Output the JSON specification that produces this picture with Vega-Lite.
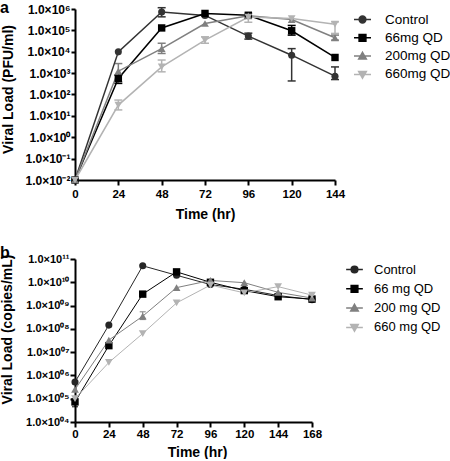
{
  "$schema": "https://vega.github.io/schema/vega-lite/v6.json",
  "padding": {"left": 0, "top": 0, "right": 0, "bottom": 0},
  "spacing": 24,
  "config": {
    "font": "Liberation Sans",
    "view": {"stroke": null},
    "axis": {
      "grid": false, "domainColor": "#000", "domainWidth": 2, "tickColor": "#000", "tickWidth": 2, "tickSize": 5,
      "labelColor": "#000", "labelFont": "Liberation Sans", "labelFontWeight": "bold", "labelOverlap": false, "labelBound": false, "labelFlush": false,
      "titleFont": "Liberation Sans", "titleFontWeight": "bold", "titleFontSize": 14, "titleColor": "#000"
    },
    "legend": {"labelFont": "Liberation Sans", "labelColor": "#000", "symbolStrokeWidth": 1.5, "symbolOpacity": 1}
  },
  "resolve": {
    "scale": {"fill": "independent", "stroke": "independent", "shape": "independent"},
    "legend": {"fill": "independent", "stroke": "independent", "shape": "independent"}
  },
  "vconcat": [
    {
      "width": 260, "height": 171,
      "title": {"text": "a", "anchor": "start", "frame": "group", "dx": -75, "offset": -13, "fontSize": 16, "fontWeight": "bold", "color": "#000"},
      "data": {"values": [
        {"s": "Control", "t": 0, "v": 0.01},
        {"s": "Control", "t": 24, "v": 9900},
        {"s": "Control", "t": 48, "v": 730000, "lo": 430000, "hi": 1150000},
        {"s": "Control", "t": 72, "v": 500000},
        {"s": "Control", "t": 96, "v": 54000, "lo": 39000, "hi": 74000},
        {"s": "Control", "t": 120, "v": 6900, "lo": 430, "hi": 14000},
        {"s": "Control", "t": 144, "v": 720, "lo": 500, "hi": 1950},
        {"s": "66mg QD", "t": 0, "v": 0.01},
        {"s": "66mg QD", "t": 24, "v": 560, "lo": 330, "hi": 810},
        {"s": "66mg QD", "t": 48, "v": 130000},
        {"s": "66mg QD", "t": 72, "v": 620000},
        {"s": "66mg QD", "t": 96, "v": 510000},
        {"s": "66mg QD", "t": 120, "v": 96000, "lo": 60000, "hi": 170000},
        {"s": "66mg QD", "t": 144, "v": 5400},
        {"s": "200mg QD", "t": 0, "v": 0.01},
        {"s": "200mg QD", "t": 24, "v": 1230, "lo": 390, "hi": 2800},
        {"s": "200mg QD", "t": 48, "v": 14000, "lo": 8300, "hi": 25000},
        {"s": "200mg QD", "t": 72, "v": 210000},
        {"s": "200mg QD", "t": 96, "v": 480000},
        {"s": "200mg QD", "t": 120, "v": 320000},
        {"s": "200mg QD", "t": 144, "v": 45000, "lo": 35000, "hi": 60000},
        {"s": "660mg QD", "t": 0, "v": 0.01},
        {"s": "660mg QD", "t": 24, "v": 32, "lo": 19, "hi": 55},
        {"s": "660mg QD", "t": 48, "v": 1950, "lo": 1150, "hi": 4100},
        {"s": "660mg QD", "t": 72, "v": 35000, "lo": 25000, "hi": 50000},
        {"s": "660mg QD", "t": 96, "v": 420000, "lo": 240000, "hi": 630000},
        {"s": "660mg QD", "t": 120, "v": 360000},
        {"s": "660mg QD", "t": 144, "v": 195000, "lo": 72000, "hi": 250000}
      ]},
      "encoding": {
        "x": {"field": "t", "type": "quantitative", "title": "Time (hr)",
          "scale": {"domain": [0, 144], "nice": false, "zero": false},
          "axis": {"values": [0, 24, 48, 72, 96, 120, 144], "labelAngle": 0, "labelFontSize": 11.5, "labelPadding": 3, "titleX": 130, "titleY": 34, "titleBaseline": "middle", "titleAlign": "center"}},
        "y": {"field": "v", "type": "quantitative", "title": "Viral Load (PFU/ml)",
          "scale": {"type": "log", "domain": [0.01, 1000000], "nice": false},
          "axis": {"values": [0.01, 0.1, 1, 10, 100, 1000, 10000, 100000, 1000000], "labelFontSize": 12, "labelPadding": 1, "tickSize": 4,
            "labelExpr": "'1.0×10' + (datum.value < 1 ? '⁻' : '') + ['⁰','¹','²','³','⁴','⁵','⁶','⁷','⁸','⁹'][abs(round(log(datum.value)/LN10))]",
            "titleX": -67, "titleY": 80, "titleAngle": 270, "titleBaseline": "middle", "titleAlign": "center"}},
        "stroke": {"field": "s", "type": "nominal",
          "scale": {"domain": ["Control", "66mg QD", "200mg QD", "660mg QD"], "range": ["#333333", "#000000", "#808080", "#b3b3b3"]},
          "legend": {"title": null, "orient": "none", "legendX": 278, "legendY": 1, "labelFontSize": 13.5, "symbolSize": 289, "rowPadding": 2.3, "labelOffset": 13}}
      },
      "layer": [
        {
          "mark": {"type": "point", "filled": true, "opacity": 0, "strokeWidth": 1.5},
          "encoding": {
            "fill": {"field": "s", "type": "nominal",
              "scale": {"domain": ["Control", "66mg QD", "200mg QD", "660mg QD"], "range": ["#333333", "#000000", "#808080", "#b3b3b3"]},
              "legend": {"title": null, "orient": "none", "legendX": 278, "legendY": 1, "labelFontSize": 13.5, "symbolSize": 289, "rowPadding": 2.3, "labelOffset": 13}},
            "shape": {"field": "s", "type": "nominal",
              "scale": {"domain": ["Control", "66mg QD", "200mg QD", "660mg QD"], "range": ["M-1,0H1M0.4,0A0.4,0.4,0,1,1,-0.4,0A0.4,0.4,0,1,1,0.4,0Z", "M-1,0H1M-0.4,-0.4H0.4V0.4H-0.4Z", "M-1,0H1M0,-0.45L0.45,0.35H-0.45Z", "M-1,0H1M0,0.45L0.45,-0.35H-0.45Z"]},
              "legend": {"title": null, "orient": "none", "legendX": 278, "legendY": 1, "labelFontSize": 13.5, "symbolSize": 289, "rowPadding": 2.3, "labelOffset": 13}}
          }
        },
        {
          "transform": [{"filter": "isValid(datum.lo)"}],
          "mark": {"type": "rule", "strokeWidth": 1.5},
          "encoding": {
            "y": {"field": "lo", "type": "quantitative", "title": "Viral Load (PFU/ml)",
              "scale": {"type": "log", "domain": [0.01, 1000000], "nice": false},
              "axis": {"values": [0.01, 0.1, 1, 10, 100, 1000, 10000, 100000, 1000000], "labelFontSize": 12, "labelPadding": 1, "tickSize": 4,
                "labelExpr": "'1.0×10' + (datum.value < 1 ? '⁻' : '') + ['⁰','¹','²','³','⁴','⁵','⁶','⁷','⁸','⁹'][abs(round(log(datum.value)/LN10))]",
                "titleX": -67, "titleY": 80, "titleAngle": 270, "titleBaseline": "middle", "titleAlign": "center"}},
            "y2": {"field": "hi"}
          }
        },
        {
          "transform": [{"filter": "isValid(datum.lo)"}],
          "mark": {"type": "tick", "orient": "horizontal", "size": 8, "thickness": 1.5, "opacity": 1, "strokeWidth": 0},
          "encoding": {
            "y": {"field": "lo", "type": "quantitative", "title": "Viral Load (PFU/ml)",
              "scale": {"type": "log", "domain": [0.01, 1000000], "nice": false},
              "axis": {"values": [0.01, 0.1, 1, 10, 100, 1000, 10000, 100000, 1000000], "labelFontSize": 12, "labelPadding": 1, "tickSize": 4,
                "labelExpr": "'1.0×10' + (datum.value < 1 ? '⁻' : '') + ['⁰','¹','²','³','⁴','⁵','⁶','⁷','⁸','⁹'][abs(round(log(datum.value)/LN10))]",
                "titleX": -67, "titleY": 80, "titleAngle": 270, "titleBaseline": "middle", "titleAlign": "center"}},
            "fill": {"field": "s", "type": "nominal",
              "scale": {"domain": ["Control", "66mg QD", "200mg QD", "660mg QD"], "range": ["#333333", "#000000", "#808080", "#b3b3b3"]},
              "legend": {"title": null, "orient": "none", "legendX": 278, "legendY": 1, "labelFontSize": 13.5, "symbolSize": 289, "rowPadding": 2.3, "labelOffset": 13}}
          }
        },
        {
          "transform": [{"filter": "isValid(datum.hi)"}],
          "mark": {"type": "tick", "orient": "horizontal", "size": 8, "thickness": 1.5, "opacity": 1, "strokeWidth": 0},
          "encoding": {
            "y": {"field": "hi", "type": "quantitative", "title": "Viral Load (PFU/ml)",
              "scale": {"type": "log", "domain": [0.01, 1000000], "nice": false},
              "axis": {"values": [0.01, 0.1, 1, 10, 100, 1000, 10000, 100000, 1000000], "labelFontSize": 12, "labelPadding": 1, "tickSize": 4,
                "labelExpr": "'1.0×10' + (datum.value < 1 ? '⁻' : '') + ['⁰','¹','²','³','⁴','⁵','⁶','⁷','⁸','⁹'][abs(round(log(datum.value)/LN10))]",
                "titleX": -67, "titleY": 80, "titleAngle": 270, "titleBaseline": "middle", "titleAlign": "center"}},
            "fill": {"field": "s", "type": "nominal",
              "scale": {"domain": ["Control", "66mg QD", "200mg QD", "660mg QD"], "range": ["#333333", "#000000", "#808080", "#b3b3b3"]},
              "legend": {"title": null, "orient": "none", "legendX": 278, "legendY": 1, "labelFontSize": 13.5, "symbolSize": 289, "rowPadding": 2.3, "labelOffset": 13}}
          }
        },
        {"mark": {"type": "line", "strokeWidth": 1.5}},
        {"transform": [{"filter": "datum.s == 'Control'"}], "mark": {"type": "point", "shape": "circle", "filled": true, "opacity": 1, "strokeWidth": 0, "size": 50},
          "encoding": {"fill": {"field": "s", "type": "nominal", "scale": {"domain": ["Control", "66mg QD", "200mg QD", "660mg QD"], "range": ["#333333", "#000000", "#808080", "#b3b3b3"]},
            "legend": {"title": null, "orient": "none", "legendX": 278, "legendY": 1, "labelFontSize": 13.5, "symbolSize": 289, "rowPadding": 2.3, "labelOffset": 13}}}},
        {"transform": [{"filter": "datum.s == '66mg QD'"}], "mark": {"type": "point", "shape": "square", "filled": true, "opacity": 1, "strokeWidth": 0, "size": 55},
          "encoding": {"fill": {"field": "s", "type": "nominal", "scale": {"domain": ["Control", "66mg QD", "200mg QD", "660mg QD"], "range": ["#333333", "#000000", "#808080", "#b3b3b3"]},
            "legend": {"title": null, "orient": "none", "legendX": 278, "legendY": 1, "labelFontSize": 13.5, "symbolSize": 289, "rowPadding": 2.3, "labelOffset": 13}}}},
        {"transform": [{"filter": "datum.s == '200mg QD'"}], "mark": {"type": "point", "shape": "triangle-up", "filled": true, "opacity": 1, "strokeWidth": 0, "size": 60},
          "encoding": {"fill": {"field": "s", "type": "nominal", "scale": {"domain": ["Control", "66mg QD", "200mg QD", "660mg QD"], "range": ["#333333", "#000000", "#808080", "#b3b3b3"]},
            "legend": {"title": null, "orient": "none", "legendX": 278, "legendY": 1, "labelFontSize": 13.5, "symbolSize": 289, "rowPadding": 2.3, "labelOffset": 13}}}},
        {"transform": [{"filter": "datum.s == '660mg QD'"}], "mark": {"type": "point", "shape": "triangle-down", "filled": true, "opacity": 1, "strokeWidth": 0, "size": 60},
          "encoding": {"fill": {"field": "s", "type": "nominal", "scale": {"domain": ["Control", "66mg QD", "200mg QD", "660mg QD"], "range": ["#333333", "#000000", "#808080", "#b3b3b3"]},
            "legend": {"title": null, "orient": "none", "legendX": 278, "legendY": 1, "labelFontSize": 13.5, "symbolSize": 289, "rowPadding": 2.3, "labelOffset": 13}}}}
      ]
    },
    {
      "width": 237, "height": 163,
      "title": {"text": "b", "anchor": "start", "frame": "group", "dx": -75, "offset": -8, "fontSize": 16, "fontWeight": "bold", "color": "#000"},
      "data": {"values": [
        {"s": "Control", "t": 0, "v": 520000},
        {"s": "Control", "t": 24, "v": 145000000},
        {"s": "Control", "t": 48, "v": 51000000000},
        {"s": "Control", "t": 72, "v": 20000000000},
        {"s": "Control", "t": 96, "v": 8000000000},
        {"s": "Control", "t": 120, "v": 5000000000},
        {"s": "Control", "t": 144, "v": 2700000000},
        {"s": "Control", "t": 168, "v": 1800000000},
        {"s": "66 mg QD", "t": 0, "v": 73000, "lo": 45000, "hi": 90000},
        {"s": "66 mg QD", "t": 24, "v": 19000000},
        {"s": "66 mg QD", "t": 48, "v": 3100000000},
        {"s": "66 mg QD", "t": 72, "v": 28000000000},
        {"s": "66 mg QD", "t": 96, "v": 10000000000},
        {"s": "66 mg QD", "t": 120, "v": 4400000000},
        {"s": "66 mg QD", "t": 144, "v": 2400000000},
        {"s": "66 mg QD", "t": 168, "v": 1900000000},
        {"s": "200 mg QD", "t": 0, "v": 250000},
        {"s": "200 mg QD", "t": 24, "v": 33000000},
        {"s": "200 mg QD", "t": 48, "v": 350000000, "lo": 250000000, "hi": 540000000},
        {"s": "200 mg QD", "t": 72, "v": 5900000000},
        {"s": "200 mg QD", "t": 96, "v": 12000000000},
        {"s": "200 mg QD", "t": 120, "v": 9600000000},
        {"s": "200 mg QD", "t": 144, "v": 3700000000},
        {"s": "200 mg QD", "t": 168, "v": 2100000000},
        {"s": "660 mg QD", "t": 0, "v": 100000},
        {"s": "660 mg QD", "t": 24, "v": 3600000},
        {"s": "660 mg QD", "t": 48, "v": 63000000},
        {"s": "660 mg QD", "t": 72, "v": 1300000000},
        {"s": "660 mg QD", "t": 96, "v": 7600000000},
        {"s": "660 mg QD", "t": 120, "v": 3500000000},
        {"s": "660 mg QD", "t": 144, "v": 6500000000},
        {"s": "660 mg QD", "t": 168, "v": 2800000000, "lo": 1800000000, "hi": 3500000000}
      ]},
      "encoding": {
        "x": {"field": "t", "type": "quantitative", "title": "Time (hr)",
          "scale": {"domain": [0, 168], "nice": false, "zero": false},
          "axis": {"values": [0, 24, 48, 72, 96, 120, 144, 168], "labelAngle": 0, "labelFontSize": 11.5, "labelPadding": 1, "titleX": 122, "titleY": 30, "titleBaseline": "middle", "titleAlign": "center"}},
        "y": {"field": "v", "type": "quantitative", "title": "Viral Load (copies/mL)",
          "scale": {"type": "log", "domain": [10000, 100000000000], "nice": false},
          "axis": {"values": [10000, 100000, 1000000, 10000000, 100000000, 1000000000, 10000000000, 100000000000], "labelFontSize": 11, "labelPadding": 1, "tickSize": 5,
            "labelExpr": "'1.0×10' + ['⁰','¹','²','³','⁴','⁵','⁶','⁷','⁸','⁹'][floor(round(log(datum.value)/LN10)/10)] + ['⁰','¹','²','³','⁴','⁵','⁶','⁷','⁸','⁹'][round(log(datum.value)/LN10) % 10]",
            "titleX": -68, "titleY": 70, "titleAngle": 270, "titleBaseline": "middle", "titleAlign": "center"}},
        "stroke": {"field": "s", "type": "nominal",
          "scale": {"domain": ["Control", "66 mg QD", "200 mg QD", "660 mg QD"], "range": ["#262626", "#000000", "#808080", "#b3b3b3"]},
          "legend": {"title": null, "orient": "none", "legendX": 270, "legendY": 1, "labelFontSize": 13, "symbolSize": 279, "rowPadding": 2.3, "labelOffset": 10}}
      },
      "layer": [
        {
          "mark": {"type": "point", "filled": true, "opacity": 0, "strokeWidth": 1.5},
          "encoding": {
            "fill": {"field": "s", "type": "nominal",
              "scale": {"domain": ["Control", "66 mg QD", "200 mg QD", "660 mg QD"], "range": ["#262626", "#000000", "#808080", "#b3b3b3"]},
              "legend": {"title": null, "orient": "none", "legendX": 270, "legendY": 1, "labelFontSize": 13, "symbolSize": 279, "rowPadding": 2.3, "labelOffset": 10}},
            "shape": {"field": "s", "type": "nominal",
              "scale": {"domain": ["Control", "66 mg QD", "200 mg QD", "660 mg QD"], "range": ["M-1,0H1M0.4,0A0.4,0.4,0,1,1,-0.4,0A0.4,0.4,0,1,1,0.4,0Z", "M-1,0H1M-0.4,-0.4H0.4V0.4H-0.4Z", "M-1,0H1M0,-0.45L0.45,0.35H-0.45Z", "M-1,0H1M0,0.45L0.45,-0.35H-0.45Z"]},
              "legend": {"title": null, "orient": "none", "legendX": 270, "legendY": 1, "labelFontSize": 13, "symbolSize": 279, "rowPadding": 2.3, "labelOffset": 10}}
          }
        },
        {
          "transform": [{"filter": "isValid(datum.lo)"}],
          "mark": {"type": "rule", "strokeWidth": 1},
          "encoding": {
            "y": {"field": "lo", "type": "quantitative", "title": "Viral Load (copies/mL)",
              "scale": {"type": "log", "domain": [10000, 100000000000], "nice": false},
              "axis": {"values": [10000, 100000, 1000000, 10000000, 100000000, 1000000000, 10000000000, 100000000000], "labelFontSize": 11, "labelPadding": 1, "tickSize": 5,
                "labelExpr": "'1.0×10' + ['⁰','¹','²','³','⁴','⁵','⁶','⁷','⁸','⁹'][floor(round(log(datum.value)/LN10)/10)] + ['⁰','¹','²','³','⁴','⁵','⁶','⁷','⁸','⁹'][round(log(datum.value)/LN10) % 10]",
                "titleX": -68, "titleY": 70, "titleAngle": 270, "titleBaseline": "middle", "titleAlign": "center"}},
            "y2": {"field": "hi"}
          }
        },
        {
          "transform": [{"filter": "isValid(datum.lo)"}],
          "mark": {"type": "tick", "orient": "horizontal", "size": 6, "thickness": 1, "opacity": 1, "strokeWidth": 0},
          "encoding": {
            "y": {"field": "lo", "type": "quantitative", "title": "Viral Load (copies/mL)",
              "scale": {"type": "log", "domain": [10000, 100000000000], "nice": false},
              "axis": {"values": [10000, 100000, 1000000, 10000000, 100000000, 1000000000, 10000000000, 100000000000], "labelFontSize": 11, "labelPadding": 1, "tickSize": 5,
                "labelExpr": "'1.0×10' + ['⁰','¹','²','³','⁴','⁵','⁶','⁷','⁸','⁹'][floor(round(log(datum.value)/LN10)/10)] + ['⁰','¹','²','³','⁴','⁵','⁶','⁷','⁸','⁹'][round(log(datum.value)/LN10) % 10]",
                "titleX": -68, "titleY": 70, "titleAngle": 270, "titleBaseline": "middle", "titleAlign": "center"}},
            "fill": {"field": "s", "type": "nominal",
              "scale": {"domain": ["Control", "66 mg QD", "200 mg QD", "660 mg QD"], "range": ["#262626", "#000000", "#808080", "#b3b3b3"]},
              "legend": {"title": null, "orient": "none", "legendX": 270, "legendY": 1, "labelFontSize": 13, "symbolSize": 279, "rowPadding": 2.3, "labelOffset": 10}}
          }
        },
        {
          "transform": [{"filter": "isValid(datum.hi)"}],
          "mark": {"type": "tick", "orient": "horizontal", "size": 6, "thickness": 1, "opacity": 1, "strokeWidth": 0},
          "encoding": {
            "y": {"field": "hi", "type": "quantitative", "title": "Viral Load (copies/mL)",
              "scale": {"type": "log", "domain": [10000, 100000000000], "nice": false},
              "axis": {"values": [10000, 100000, 1000000, 10000000, 100000000, 1000000000, 10000000000, 100000000000], "labelFontSize": 11, "labelPadding": 1, "tickSize": 5,
                "labelExpr": "'1.0×10' + ['⁰','¹','²','³','⁴','⁵','⁶','⁷','⁸','⁹'][floor(round(log(datum.value)/LN10)/10)] + ['⁰','¹','²','³','⁴','⁵','⁶','⁷','⁸','⁹'][round(log(datum.value)/LN10) % 10]",
                "titleX": -68, "titleY": 70, "titleAngle": 270, "titleBaseline": "middle", "titleAlign": "center"}},
            "fill": {"field": "s", "type": "nominal",
              "scale": {"domain": ["Control", "66 mg QD", "200 mg QD", "660 mg QD"], "range": ["#262626", "#000000", "#808080", "#b3b3b3"]},
              "legend": {"title": null, "orient": "none", "legendX": 270, "legendY": 1, "labelFontSize": 13, "symbolSize": 279, "rowPadding": 2.3, "labelOffset": 10}}
          }
        },
        {"mark": {"type": "line", "strokeWidth": 1}},
        {"transform": [{"filter": "datum.s == 'Control'"}], "mark": {"type": "point", "shape": "circle", "filled": true, "opacity": 1, "strokeWidth": 0, "size": 50},
          "encoding": {"fill": {"field": "s", "type": "nominal", "scale": {"domain": ["Control", "66 mg QD", "200 mg QD", "660 mg QD"], "range": ["#262626", "#000000", "#808080", "#b3b3b3"]},
            "legend": {"title": null, "orient": "none", "legendX": 270, "legendY": 1, "labelFontSize": 13, "symbolSize": 279, "rowPadding": 2.3, "labelOffset": 10}}}},
        {"transform": [{"filter": "datum.s == '66 mg QD'"}], "mark": {"type": "point", "shape": "square", "filled": true, "opacity": 1, "strokeWidth": 0, "size": 55},
          "encoding": {"fill": {"field": "s", "type": "nominal", "scale": {"domain": ["Control", "66 mg QD", "200 mg QD", "660 mg QD"], "range": ["#262626", "#000000", "#808080", "#b3b3b3"]},
            "legend": {"title": null, "orient": "none", "legendX": 270, "legendY": 1, "labelFontSize": 13, "symbolSize": 279, "rowPadding": 2.3, "labelOffset": 10}}}},
        {"transform": [{"filter": "datum.s == '200 mg QD'"}], "mark": {"type": "point", "shape": "triangle-up", "filled": true, "opacity": 1, "strokeWidth": 0, "size": 60},
          "encoding": {"fill": {"field": "s", "type": "nominal", "scale": {"domain": ["Control", "66 mg QD", "200 mg QD", "660 mg QD"], "range": ["#262626", "#000000", "#808080", "#b3b3b3"]},
            "legend": {"title": null, "orient": "none", "legendX": 270, "legendY": 1, "labelFontSize": 13, "symbolSize": 279, "rowPadding": 2.3, "labelOffset": 10}}}},
        {"transform": [{"filter": "datum.s == '660 mg QD'"}], "mark": {"type": "point", "shape": "triangle-down", "filled": true, "opacity": 1, "strokeWidth": 0, "size": 60},
          "encoding": {"fill": {"field": "s", "type": "nominal", "scale": {"domain": ["Control", "66 mg QD", "200 mg QD", "660 mg QD"], "range": ["#262626", "#000000", "#808080", "#b3b3b3"]},
            "legend": {"title": null, "orient": "none", "legendX": 270, "legendY": 1, "labelFontSize": 13, "symbolSize": 279, "rowPadding": 2.3, "labelOffset": 10}}}}
      ]
    }
  ]
}
